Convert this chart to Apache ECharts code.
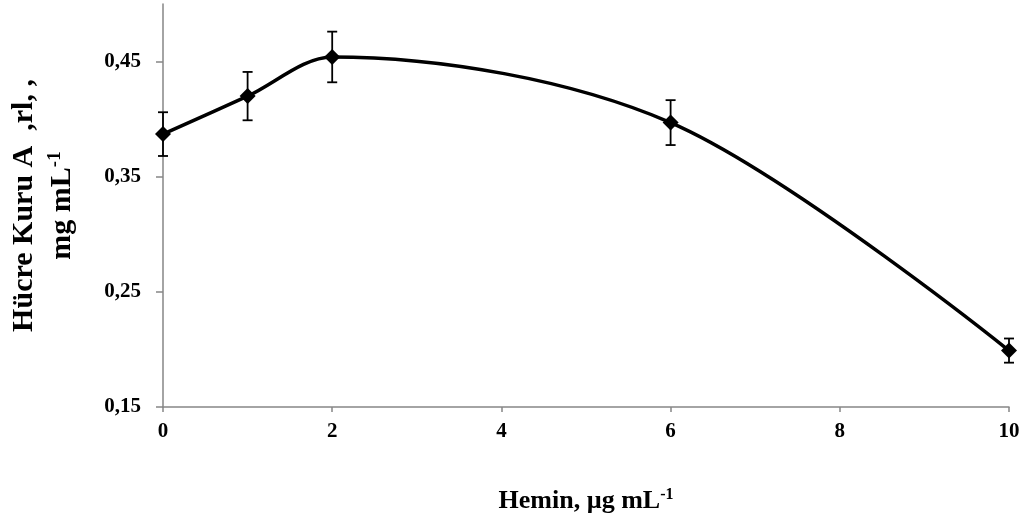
<!DOCTYPE html>
<html>
<head>
<meta charset="utf-8">
<script src="https://cdn.jsdelivr.net/npm/echarts@6/dist/echarts.min.js"></script>
<style>
  html, body { margin: 0; padding: 0; background: #fff; }
  #chart { width: 1032px; height: 525px; }
</style>
</head>
<body>
<div id="chart"></div>
<script>
// Hemin concentration (µg mL-1) against cell dry weight (mg mL-1)
const heminDose = [0, 1, 2, 6, 10];
const dryWeight = [0.387, 0.420, 0.454, 0.397, 0.199];
const stdError = [0.019, 0.021, 0.022, 0.0195, 0.0105];
const xTitle = 'Hemin, µg mL';
const yTitleLine1 = 'Hücre Kuru A  ,rl, ,';
const yTitleLine2 = 'mg mL';
const unitExp = '-1';

const font = 'Liberation Serif';
const axisGray = '#868686';

const chart = echarts.init(document.getElementById('chart'), null, { renderer: 'canvas' });

const pts = heminDose.map((x, i) => [x, dryWeight[i]]);
const bars = heminDose.map((x, i) => [x, dryWeight[i] - stdError[i], dryWeight[i] + stdError[i]]);

const richFor = size => ({
  t: { fontFamily: font, fontWeight: 'bold', fontSize: size, color: '#000' },
  sup: { fontFamily: font, fontWeight: 'bold', fontSize: Math.round(size * 0.62), color: '#000', padding: [0, 0, Math.round(size * 0.45), 0] }
});

chart.setOption({
  animation: false,
  backgroundColor: '#fff',
  grid: { left: 163, right: 23, top: 4, bottom: 118, containLabel: false, outerBoundsMode: 'none' },
  xAxis: {
    type: 'value',
    min: 0, max: 10, interval: 2,
    name: '{t|' + xTitle + '}{sup|' + unitExp + '}',
    nameLocation: 'middle',
    nameGap: 80,
    nameTextStyle: { rich: richFor(26) },
    axisLine: { lineStyle: { color: axisGray, width: 1.5 } },
    axisTick: { show: true, length: 5, lineStyle: { color: axisGray, width: 1.5 } },
    splitLine: { show: false },
    axisLabel: { fontFamily: font, fontWeight: 'bold', fontSize: 21, color: '#000', margin: 14 }
  },
  yAxis: {
    type: 'value',
    min: 0.15, max: 0.5, interval: 0.1,
    name: '{t|' + yTitleLine1 + '}\n{t|' + yTitleLine2 + '}{sup|' + unitExp + '}',
    nameLocation: 'middle',
    nameRotate: 90,
    nameGap: 82,
    nameTextStyle: { rich: richFor(30), lineHeight: 38, padding: [0, 0, 0, 0] },
    axisLine: { show: true, lineStyle: { color: axisGray, width: 1.5 } },
    axisTick: { show: true, length: 7, lineStyle: { color: axisGray, width: 1.5 } },
    splitLine: { show: false },
    axisLabel: {
      fontFamily: font, fontWeight: 'bold', fontSize: 21, color: '#000', margin: 22,
      showMaxLabel: false,
      formatter: v => (Math.abs(v - 0.5) < 1e-9 ? '' : v.toFixed(2).replace('.', ','))
    }
  },
  series: [
    {
      type: 'line',
      data: pts,
      smooth: 0.32,
      symbol: 'diamond',
      symbolSize: 16,
      itemStyle: { color: '#000' },
      lineStyle: { color: '#000', width: 3.5 },
      z: 3
    },
    {
      type: 'custom',
      data: bars,
      z: 2,
      renderItem: (params, api) => {
        const x = api.value(0);
        const lo = api.coord([x, api.value(1)]);
        const hi = api.coord([x, api.value(2)]);
        const cap = 5;
        const st = { stroke: '#000', lineWidth: 1.8 };
        return {
          type: 'group',
          children: [
            { type: 'line', shape: { x1: lo[0], y1: lo[1], x2: hi[0], y2: hi[1] }, style: st },
            { type: 'line', shape: { x1: lo[0] - cap, y1: lo[1], x2: lo[0] + cap, y2: lo[1] }, style: st },
            { type: 'line', shape: { x1: hi[0] - cap, y1: hi[1], x2: hi[0] + cap, y2: hi[1] }, style: st }
          ]
        };
      }
    }
  ]
});
</script>
</body>
</html>
